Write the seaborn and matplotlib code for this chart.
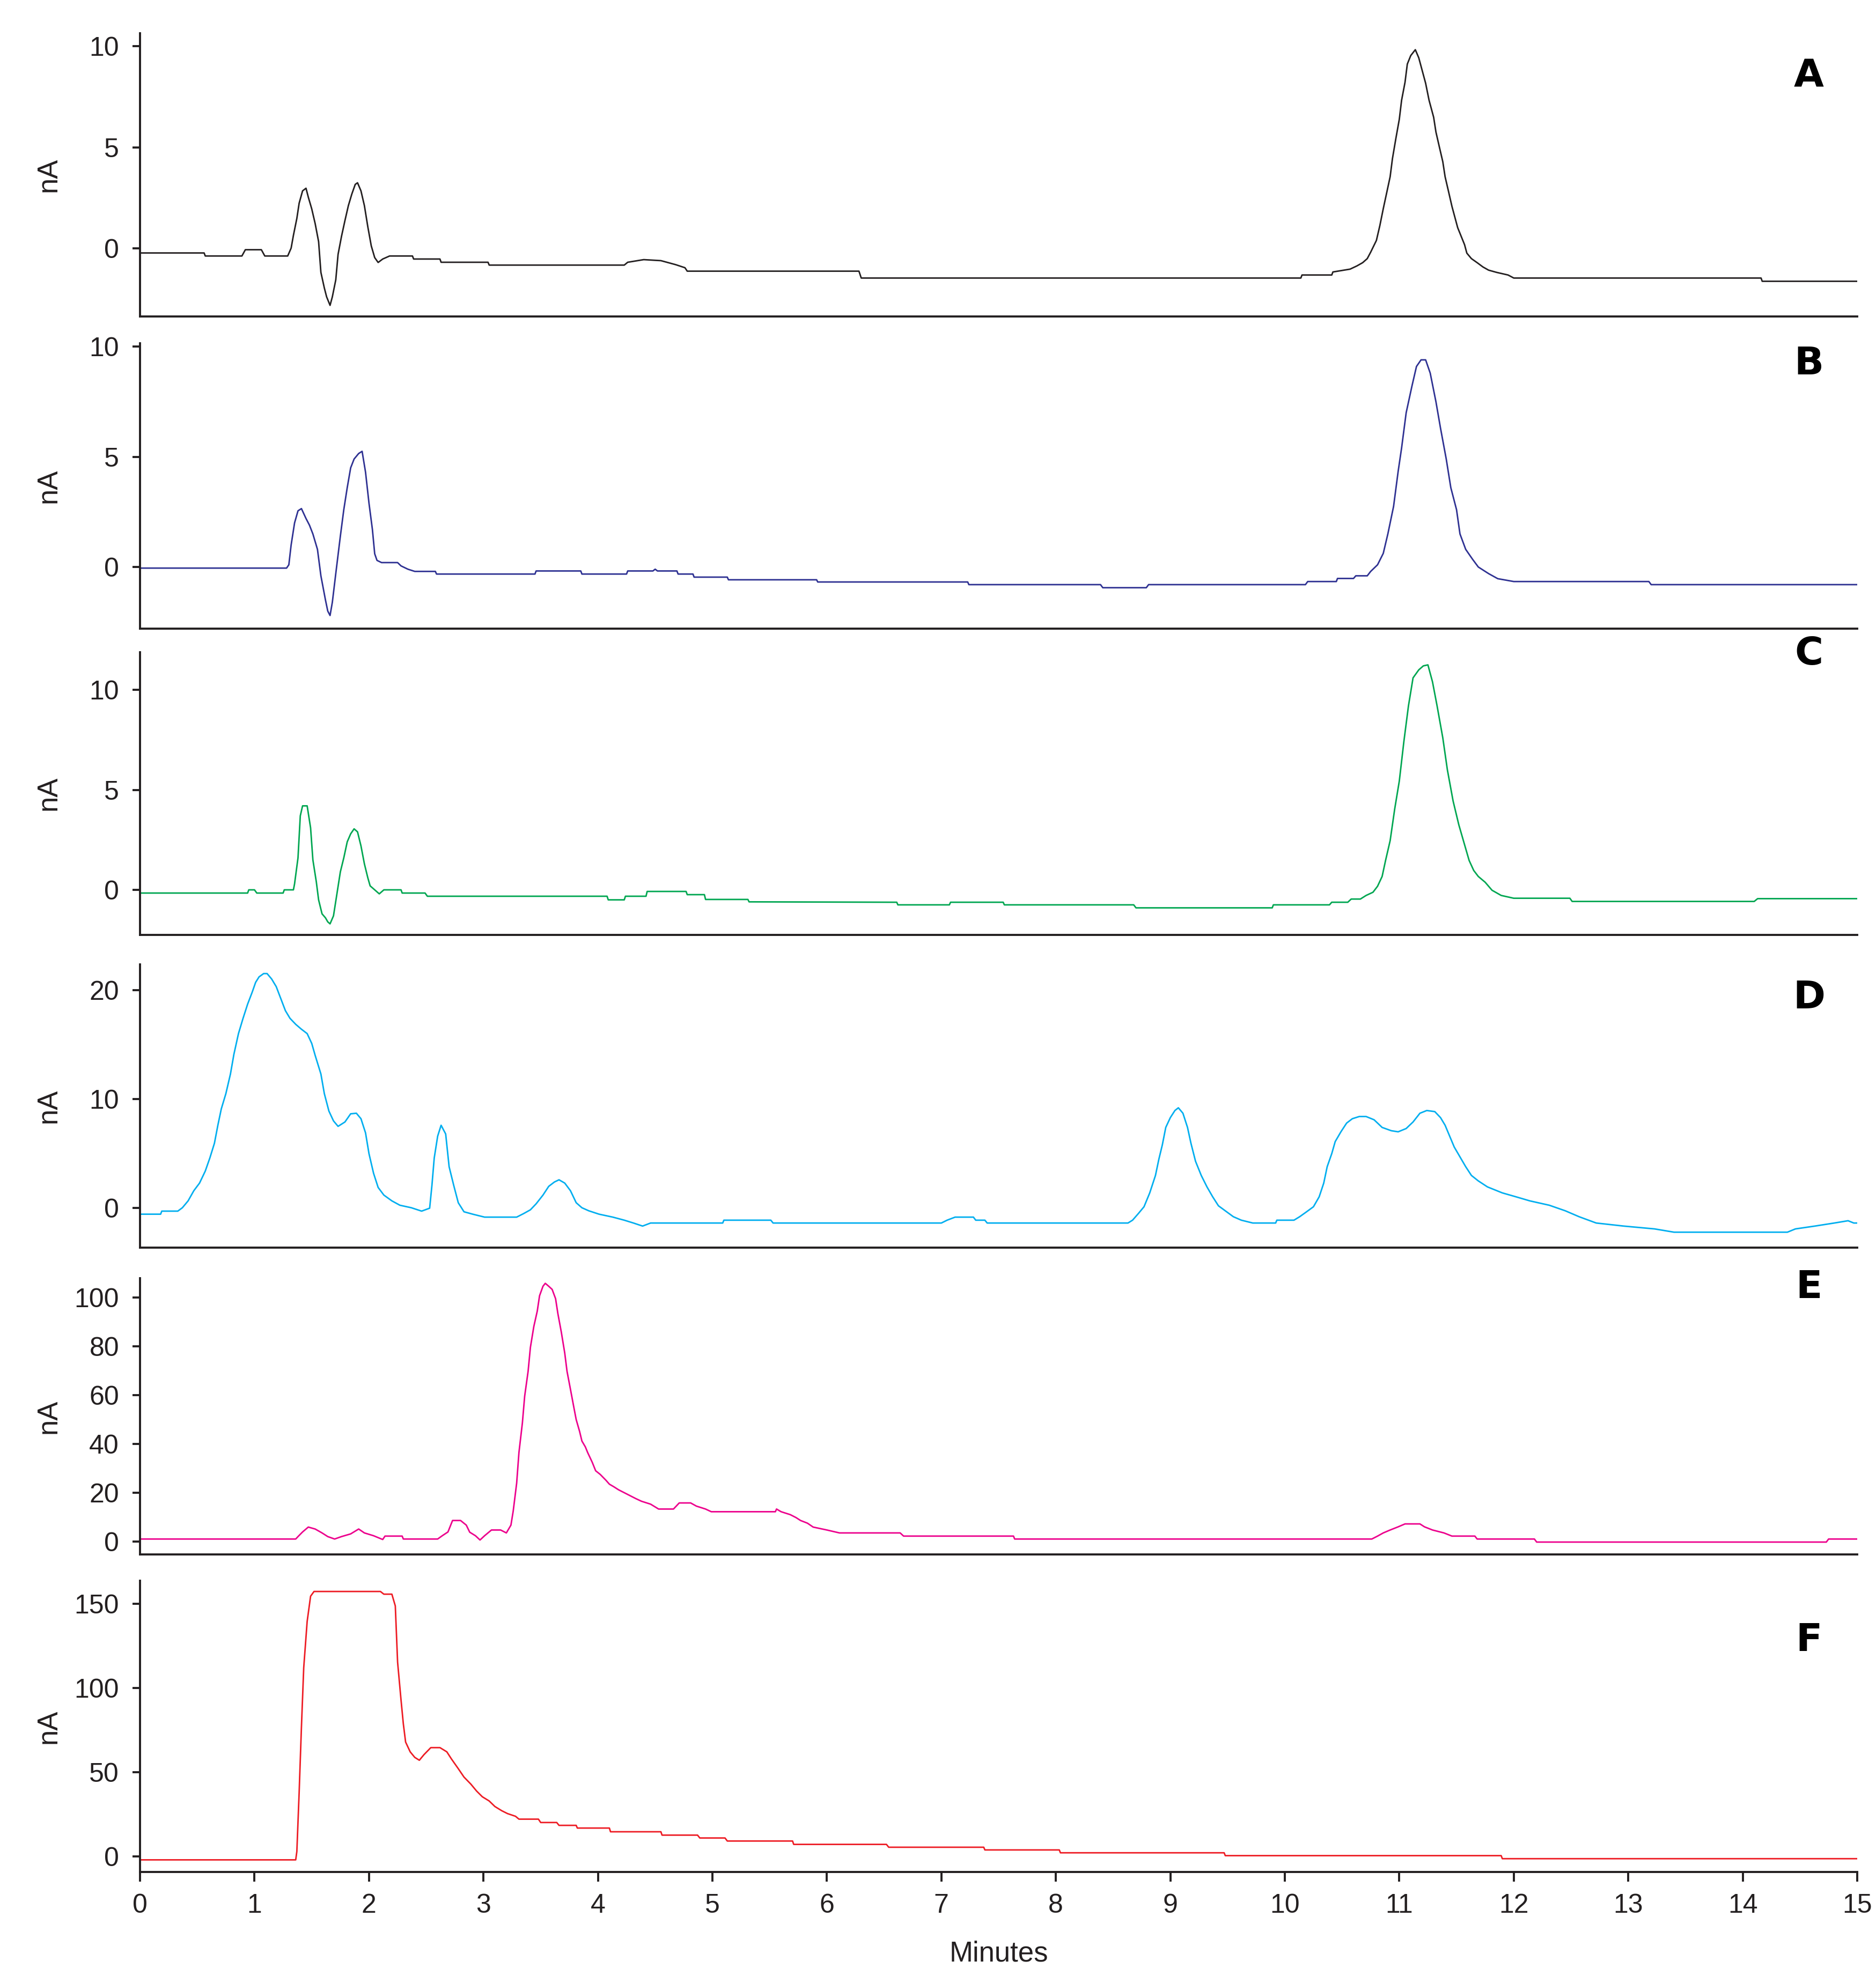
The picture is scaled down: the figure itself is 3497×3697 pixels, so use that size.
import matplotlib
matplotlib.use("Agg")
import matplotlib.pyplot as plt
from matplotlib import font_manager
import seaborn as sns
import pandas as pd

# ---------------- data (time in minutes, signal in nA) ----------------
trace_a = [(0, -0.22), (0.56, -0.22), (0.57, -0.37), (0.89, -0.37), (0.92, -0.06), (1.06, -0.06),
           (1.09, -0.37), (1.29, -0.37), (1.32, 0.02), (1.34, 0.65), (1.37, 1.49), (1.39, 2.24),
           (1.42, 2.85), (1.45, 2.98), (1.47, 2.54), (1.50, 1.96), (1.53, 1.23), (1.56, 0.34),
           (1.58, -1.18), (1.61, -1.95), (1.63, -2.39), (1.66, -2.81), (1.68, -2.39), (1.71, -1.55),
           (1.73, -0.29), (1.76, 0.6), (1.79, 1.38), (1.82, 2.12), (1.85, 2.69), (1.88, 3.17),
           (1.90, 3.25), (1.93, 2.85), (1.96, 2.12), (1.99, 1.07), (2.02, 0.13), (2.05, -0.45),
           (2.08, -0.69), (2.12, -0.52), (2.18, -0.37), (2.38, -0.37), (2.39, -0.52), (2.62, -0.52),
           (2.63, -0.68), (3.04, -0.68), (3.05, -0.82), (4.23, -0.82), (4.26, -0.68), (4.40, -0.55),
           (4.55, -0.6), (4.68, -0.8), (4.76, -0.95), (4.78, -1.12), (6.28, -1.12), (6.30, -1.46),
           (10.14, -1.46), (10.15, -1.31), (10.41, -1.31), (10.42, -1.16), (10.57, -1.02),
           (10.63, -0.86), (10.68, -0.7), (10.72, -0.5), (10.75, -0.18), (10.80, 0.4), (10.83, 1.13),
           (10.86, 1.97), (10.89, 2.76), (10.92, 3.55), (10.94, 4.44), (10.97, 5.44), (11.00, 6.39),
           (11.02, 7.33), (11.05, 8.22), (11.07, 9.12), (11.10, 9.54), (11.14, 9.83), (11.17, 9.43),
           (11.20, 8.8), (11.23, 8.17), (11.26, 7.33), (11.30, 6.49), (11.32, 5.76), (11.35, 5.02),
           (11.38, 4.29), (11.40, 3.55), (11.43, 2.82), (11.46, 2.08), (11.49, 1.45), (11.51, 1.03),
           (11.54, 0.61), (11.57, 0.19), (11.59, -0.23), (11.63, -0.5), (11.68, -0.7), (11.73, -0.91),
           (11.78, -1.07), (11.85, -1.18), (11.95, -1.31), (12.0, -1.46), (14.16, -1.46),
           (14.17, -1.62), (15.0, -1.62)]

trace_b = [(0, -0.05), (1.28, -0.05), (1.30, 0.1), (1.32, 1.0), (1.35, 2.0), (1.38, 2.55), (1.41, 2.65),
           (1.45, 2.2), (1.48, 1.9), (1.51, 1.5), (1.55, 0.8), (1.58, -0.4), (1.62, -1.5), (1.64, -2.0),
           (1.66, -2.2), (1.68, -1.6), (1.71, -0.3), (1.75, 1.4), (1.78, 2.6), (1.81, 3.6), (1.84, 4.5),
           (1.87, 4.9), (1.91, 5.15), (1.94, 5.25), (1.97, 4.3), (2.0, 2.9), (2.03, 1.7), (2.05, 0.6),
           (2.07, 0.3), (2.11, 0.2), (2.25, 0.2), (2.28, 0.05), (2.34, -0.1), (2.40, -0.2), (2.58, -0.2),
           (2.59, -0.32), (3.45, -0.32), (3.46, -0.18), (3.85, -0.18), (3.86, -0.32), (4.25, -0.32),
           (4.26, -0.18), (4.48, -0.18), (4.5, -0.1), (4.52, -0.18), (4.69, -0.18), (4.70, -0.32),
           (4.83, -0.32), (4.84, -0.46), (5.13, -0.46), (5.14, -0.58), (5.91, -0.58), (5.92, -0.68),
           (7.23, -0.68), (7.24, -0.8), (8.39, -0.8), (8.41, -0.94), (8.79, -0.94), (8.81, -0.8),
           (10.18, -0.8), (10.2, -0.66), (10.45, -0.66), (10.46, -0.52), (10.6, -0.52), (10.62, -0.4),
           (10.72, -0.4), (10.75, -0.2), (10.81, 0.1), (10.86, 0.62), (10.9, 1.5), (10.95, 2.75),
           (10.99, 4.34), (11.02, 5.4), (11.06, 7.0), (11.11, 8.2), (11.15, 9.1), (11.19, 9.4),
           (11.23, 9.4), (11.27, 8.8), (11.32, 7.5), (11.36, 6.3), (11.41, 4.9), (11.45, 3.6),
           (11.5, 2.6), (11.53, 1.5), (11.58, 0.8), (11.64, 0.35), (11.69, 0.0), (11.78, -0.3),
           (11.86, -0.53), (12.0, -0.66), (13.18, -0.66), (13.2, -0.8), (15.0, -0.8)]

trace_c = [(0, -0.16), (0.94, -0.16), (0.95, 0.0), (1.0, 0.0), (1.02, -0.16), (1.25, -0.16), (1.26, 0.0),
           (1.34, 0.0), (1.35, 0.3), (1.38, 1.6), (1.40, 3.7), (1.42, 4.2), (1.46, 4.2), (1.49, 3.1),
           (1.51, 1.5), (1.54, 0.4), (1.56, -0.5), (1.59, -1.2), (1.62, -1.4), (1.64, -1.6), (1.66, -1.7),
           (1.69, -1.3), (1.72, -0.2), (1.75, 0.9), (1.78, 1.6), (1.81, 2.4), (1.84, 2.8), (1.87, 3.05),
           (1.90, 2.9), (1.93, 2.2), (1.96, 1.3), (1.99, 0.6), (2.01, 0.2), (2.05, 0.0), (2.09, -0.2),
           (2.13, 0.0), (2.28, 0.0), (2.29, -0.16), (2.49, -0.16), (2.51, -0.32), (4.08, -0.32),
           (4.09, -0.5), (4.23, -0.5), (4.24, -0.32), (4.42, -0.32), (4.43, -0.08), (4.77, -0.08),
           (4.78, -0.24), (4.93, -0.24), (4.94, -0.48), (5.31, -0.48), (5.32, -0.6), (6.61, -0.62),
           (6.62, -0.75), (7.07, -0.75), (7.08, -0.62), (7.54, -0.62), (7.55, -0.75), (8.68, -0.75),
           (8.7, -0.9), (9.89, -0.9), (9.9, -0.75), (10.39, -0.75), (10.41, -0.62), (10.55, -0.62),
           (10.58, -0.46), (10.66, -0.46), (10.71, -0.28), (10.77, -0.12), (10.81, 0.18), (10.85, 0.67),
           (10.88, 1.47), (10.92, 2.46), (10.96, 4.05), (11.0, 5.44), (11.04, 7.42), (11.08, 9.2),
           (11.12, 10.6), (11.17, 11.0), (11.21, 11.2), (11.25, 11.25), (11.29, 10.4), (11.33, 9.2),
           (11.38, 7.6), (11.42, 6.0), (11.47, 4.44), (11.52, 3.25), (11.57, 2.26), (11.61, 1.47),
           (11.65, 0.97), (11.69, 0.67), (11.75, 0.38), (11.81, -0.02), (11.89, -0.28), (12.0, -0.42),
           (12.49, -0.42), (12.51, -0.58), (14.1, -0.58), (14.13, -0.44), (15.0, -0.44)]

trace_d = [(0, -0.55), (0.18, -0.55), (0.19, -0.27), (0.33, -0.27), (0.37, 0.04), (0.42, 0.67), (0.47, 1.6),
           (0.52, 2.3), (0.57, 3.4), (0.61, 4.6), (0.65, 5.95), (0.68, 7.6), (0.71, 9.1), (0.75, 10.5),
           (0.79, 12.3), (0.82, 14.1), (0.86, 16.0), (0.90, 17.4), (0.94, 18.7), (0.98, 19.8),
           (1.01, 20.7), (1.04, 21.2), (1.08, 21.5), (1.11, 21.5), (1.15, 21.0), (1.19, 20.3),
           (1.23, 19.2), (1.27, 18.1), (1.31, 17.4), (1.36, 16.85), (1.41, 16.4), (1.46, 16.0),
           (1.50, 15.1), (1.53, 14.0), (1.58, 12.3), (1.61, 10.5), (1.65, 8.9), (1.69, 8.0), (1.73, 7.5),
           (1.79, 7.9), (1.84, 8.65), (1.89, 8.7), (1.93, 8.2), (1.97, 6.9), (2.0, 5.0), (2.04, 3.2),
           (2.08, 1.9), (2.13, 1.2), (2.2, 0.67), (2.27, 0.27), (2.37, 0.04), (2.46, -0.27), (2.53, 0.0),
           (2.55, 2.1), (2.57, 4.6), (2.60, 6.6), (2.63, 7.6), (2.67, 6.8), (2.70, 3.8), (2.74, 2.1),
           (2.78, 0.5), (2.83, -0.33), (2.91, -0.56), (3.01, -0.82), (3.29, -0.82), (3.35, -0.5),
           (3.41, -0.15), (3.46, 0.4), (3.52, 1.2), (3.57, 2.0), (3.62, 2.4), (3.66, 2.6), (3.71, 2.3),
           (3.76, 1.6), (3.81, 0.5), (3.86, 0.04), (3.92, -0.24), (4.01, -0.55), (4.13, -0.82),
           (4.23, -1.1), (4.31, -1.36), (4.39, -1.64), (4.46, -1.36), (5.09, -1.36), (5.1, -1.1),
           (5.51, -1.1), (5.53, -1.36), (7.0, -1.36), (7.05, -1.1), (7.12, -0.82), (7.28, -0.82),
           (7.3, -1.1), (7.38, -1.1), (7.4, -1.36), (8.63, -1.36), (8.67, -1.1), (8.72, -0.5),
           (8.77, 0.13), (8.82, 1.4), (8.87, 3.0), (8.90, 4.5), (8.93, 5.8), (8.96, 7.4), (9.0, 8.3),
           (9.04, 8.95), (9.07, 9.2), (9.11, 8.7), (9.15, 7.4), (9.18, 5.95), (9.22, 4.3), (9.27, 3.0),
           (9.32, 1.95), (9.37, 1.04), (9.42, 0.22), (9.48, -0.24), (9.55, -0.78), (9.62, -1.1),
           (9.72, -1.36), (9.92, -1.36), (9.93, -1.1), (10.08, -1.1), (10.13, -0.78), (10.19, -0.33),
           (10.25, 0.13), (10.30, 1.04), (10.34, 2.3), (10.37, 3.8), (10.41, 5.0), (10.44, 6.1),
           (10.49, 7.0), (10.54, 7.8), (10.59, 8.2), (10.65, 8.4), (10.71, 8.4), (10.78, 8.1),
           (10.85, 7.4), (10.93, 7.1), (10.99, 7.0), (11.06, 7.3), (11.12, 7.9), (11.18, 8.7),
           (11.24, 8.95), (11.31, 8.85), (11.36, 8.3), (11.40, 7.6), (11.44, 6.6), (11.48, 5.6),
           (11.53, 4.7), (11.58, 3.8), (11.63, 3.0), (11.69, 2.5), (11.77, 1.95), (11.9, 1.4),
           (12.02, 1.04), (12.14, 0.67), (12.31, 0.27), (12.45, -0.24), (12.57, -0.78), (12.72, -1.36),
           (12.96, -1.64), (13.23, -1.9), (13.4, -2.2), (14.39, -2.2), (14.46, -1.9), (14.63, -1.64),
           (14.8, -1.36), (14.92, -1.15), (14.97, -1.36), (15.0, -1.36)]

trace_e = [(0, 1.0), (1.36, 1.0), (1.38, 2.0), (1.42, 3.9), (1.47, 5.9), (1.53, 5.1), (1.59, 3.5), (1.64, 2.0),
           (1.70, 1.0), (1.76, 2.0), (1.84, 3.1), (1.91, 5.1), (1.96, 3.5), (2.04, 2.35), (2.12, 0.8),
           (2.14, 2.2), (2.29, 2.2), (2.3, 1.0), (2.6, 1.0), (2.64, 2.35), (2.69, 3.9), (2.73, 8.6),
           (2.80, 8.6), (2.85, 6.7), (2.88, 3.8), (2.93, 2.35), (2.97, 0.6), (3.01, 2.35), (3.07, 4.7),
           (3.15, 4.7), (3.20, 3.5), (3.24, 6.7), (3.26, 12.5), (3.29, 23.9), (3.31, 36.5), (3.34, 48.6),
           (3.36, 59.6), (3.39, 69.8), (3.41, 79.6), (3.44, 88.2), (3.47, 94.5), (3.49, 100.8),
           (3.52, 104.7), (3.54, 105.9), (3.57, 104.7), (3.60, 103.4), (3.63, 99.6), (3.65, 93.5),
           (3.68, 85.9), (3.71, 77.3), (3.73, 69.8), (3.76, 62.4), (3.79, 54.9), (3.81, 50.0),
           (3.84, 45.1), (3.86, 41.2), (3.89, 38.8), (3.91, 36.5), (3.95, 32.5), (3.98, 29.0),
           (4.02, 27.5), (4.07, 25.1), (4.10, 23.5), (4.14, 22.4), (4.18, 21.2), (4.23, 20.0),
           (4.28, 18.8), (4.33, 17.6), (4.38, 16.5), (4.46, 15.3), (4.53, 13.3), (4.66, 13.3),
           (4.71, 15.8), (4.81, 15.8), (4.86, 14.5), (4.94, 13.3), (4.99, 12.2), (5.55, 12.2),
           (5.56, 13.3), (5.6, 12.2), (5.68, 11.0), (5.73, 9.8), (5.77, 8.6), (5.83, 7.5), (5.88, 5.9),
           (6.0, 4.7), (6.11, 3.5), (6.64, 3.5), (6.67, 2.2), (7.63, 2.2), (7.64, 1.0), (10.76, 1.0),
           (10.81, 2.2), (10.86, 3.5), (10.92, 4.7), (10.99, 6.0), (11.05, 7.2), (11.18, 7.2),
           (11.22, 6.0), (11.29, 4.7), (11.39, 3.5), (11.46, 2.2), (11.66, 2.2), (11.68, 1.0),
           (12.18, 1.0), (12.2, -0.25), (14.73, -0.25), (14.75, 1.0), (15.0, 1.0)]

trace_f = [(0, -2.2), (1.36, -2.2), (1.37, 2.8), (1.39, 37.8), (1.41, 76.7), (1.43, 112.0), (1.46, 139.5),
           (1.49, 154.5), (1.52, 157.3), (2.10, 157.3), (2.13, 155.7), (2.2, 155.7), (2.23, 148.7),
           (2.25, 115.3), (2.28, 92.8), (2.30, 78.7), (2.32, 67.8), (2.36, 62.0), (2.40, 58.7),
           (2.44, 57.0), (2.48, 60.3), (2.54, 64.5), (2.62, 64.5), (2.68, 62.0), (2.72, 57.8),
           (2.78, 52.0), (2.83, 47.0), (2.89, 42.8), (2.94, 38.7), (2.99, 35.3), (3.05, 32.8),
           (3.10, 29.5), (3.16, 27.0), (3.21, 25.3), (3.28, 23.7), (3.31, 22.0), (3.48, 22.0),
           (3.5, 20.0), (3.64, 20.0), (3.66, 18.3), (3.81, 18.3), (3.82, 16.7), (4.1, 16.7),
           (4.11, 14.5), (4.55, 14.5), (4.56, 12.5), (4.87, 12.5), (4.89, 10.8), (5.11, 10.8),
           (5.13, 9.0), (5.7, 9.0), (5.71, 7.0), (6.52, 7.0), (6.54, 5.3), (7.37, 5.3), (7.38, 3.7),
           (8.03, 3.7), (8.04, 2.0), (9.47, 2.0), (9.48, 0.3), (11.89, 0.3), (11.9, -1.5), (15.0, -1.5)]

panel_labels = ["A", "B", "C", "D", "E", "F"]
panel_traces = [trace_a, trace_b, trace_c, trace_d, trace_e, trace_f]
panel_colors = ["#231f20", "#2e3192", "#00a651", "#00aeef", "#ec008c", "#ed1c24"]
panel_ylims = [(-3.36, 10.63), (-2.79, 10.14), (-2.24, 11.89), (-3.6, 22.35), (-5.3, 108.0), (-9.3, 163.7)]
panel_yticks = [[0, 5, 10], [0, 5, 10], [0, 5, 10], [0, 10, 20], [0, 20, 40, 60, 80, 100], [0, 50, 100, 150]]
x_ticks = list(range(0, 16))
x_label = "Minutes"
y_label = "nA"

# --------------- layout (figure fractions) ---------------
W, H = 3498, 3697
ax_left, ax_right = 261, 3462
ax_tb = [(62.5, 590), (640.5, 1171.7), (1215.7, 1742.5), (1797.8, 2325.7), (2383, 2897.9), (2947, 3489.7)]
label_y = [141.5, 679, 1219, 1860, 2400, 3059]
label_x = 3372

sns.set_style("ticks")
names = {f.name for f in font_manager.fontManager.ttflist}
tick_font = "Liberation Sans Narrow" if "Liberation Sans Narrow" in names else "Liberation Sans"
plt.rcParams["font.family"] = [tick_font, "DejaVu Sans"]

spine_color = "#231f20"
fig = plt.figure(figsize=(W / 200, H / 200), dpi=200)
fig.patch.set_facecolor("white")

for i, (lab, tr, col, yl, yt) in enumerate(zip(panel_labels, panel_traces, panel_colors, panel_ylims, panel_yticks)):
    top, bot = ax_tb[i]
    ax = fig.add_axes([ax_left / W, 1 - bot / H, (ax_right - ax_left) / W, (bot - top) / H])
    df = pd.DataFrame(tr, columns=["t", "nA"])
    sns.lineplot(data=df, x="t", y="nA", ax=ax, color=col, linewidth=1.0,
                 estimator=None, sort=False)
    ax.set_xlim(0, 15)
    ax.set_ylim(*yl)
    ax.set_yticks(yt)
    ax.set_yticklabels([str(v) for v in yt])
    for s in ["top", "right"]:
        ax.spines[s].set_visible(False)
    for s in ["left", "bottom"]:
        ax.spines[s].set_color(spine_color)
        ax.spines[s].set_linewidth(1.4)
    ax.tick_params(axis="y", direction="out", length=5, width=1.4, color=spine_color,
                   labelsize=18, pad=9, labelcolor="#231f20")
    ax.set_ylabel(y_label, fontsize=19, color="#231f20")
    ax.yaxis.set_label_coords(-0.0456, 0.5)
    ax.set_facecolor("white")
    if i == 5:
        ax.set_xticks(x_ticks)
        ax.set_xticklabels([str(v) for v in x_ticks])
        ax.tick_params(axis="x", direction="out", length=6.5, width=1.4, color=spine_color,
                       labelsize=18, pad=8, labelcolor="#231f20")
        ax.set_xlabel(x_label, fontsize=19, color="#231f20", labelpad=15)
    else:
        ax.set_xticks([])
        ax.set_xlabel("")
    fig.text(label_x / W, 1 - label_y[i] / H, lab, fontsize=26, fontweight="bold",
             family="DejaVu Sans", ha="center", va="center", color="black")

fig.savefig("out.png", dpi=200, facecolor="white")
